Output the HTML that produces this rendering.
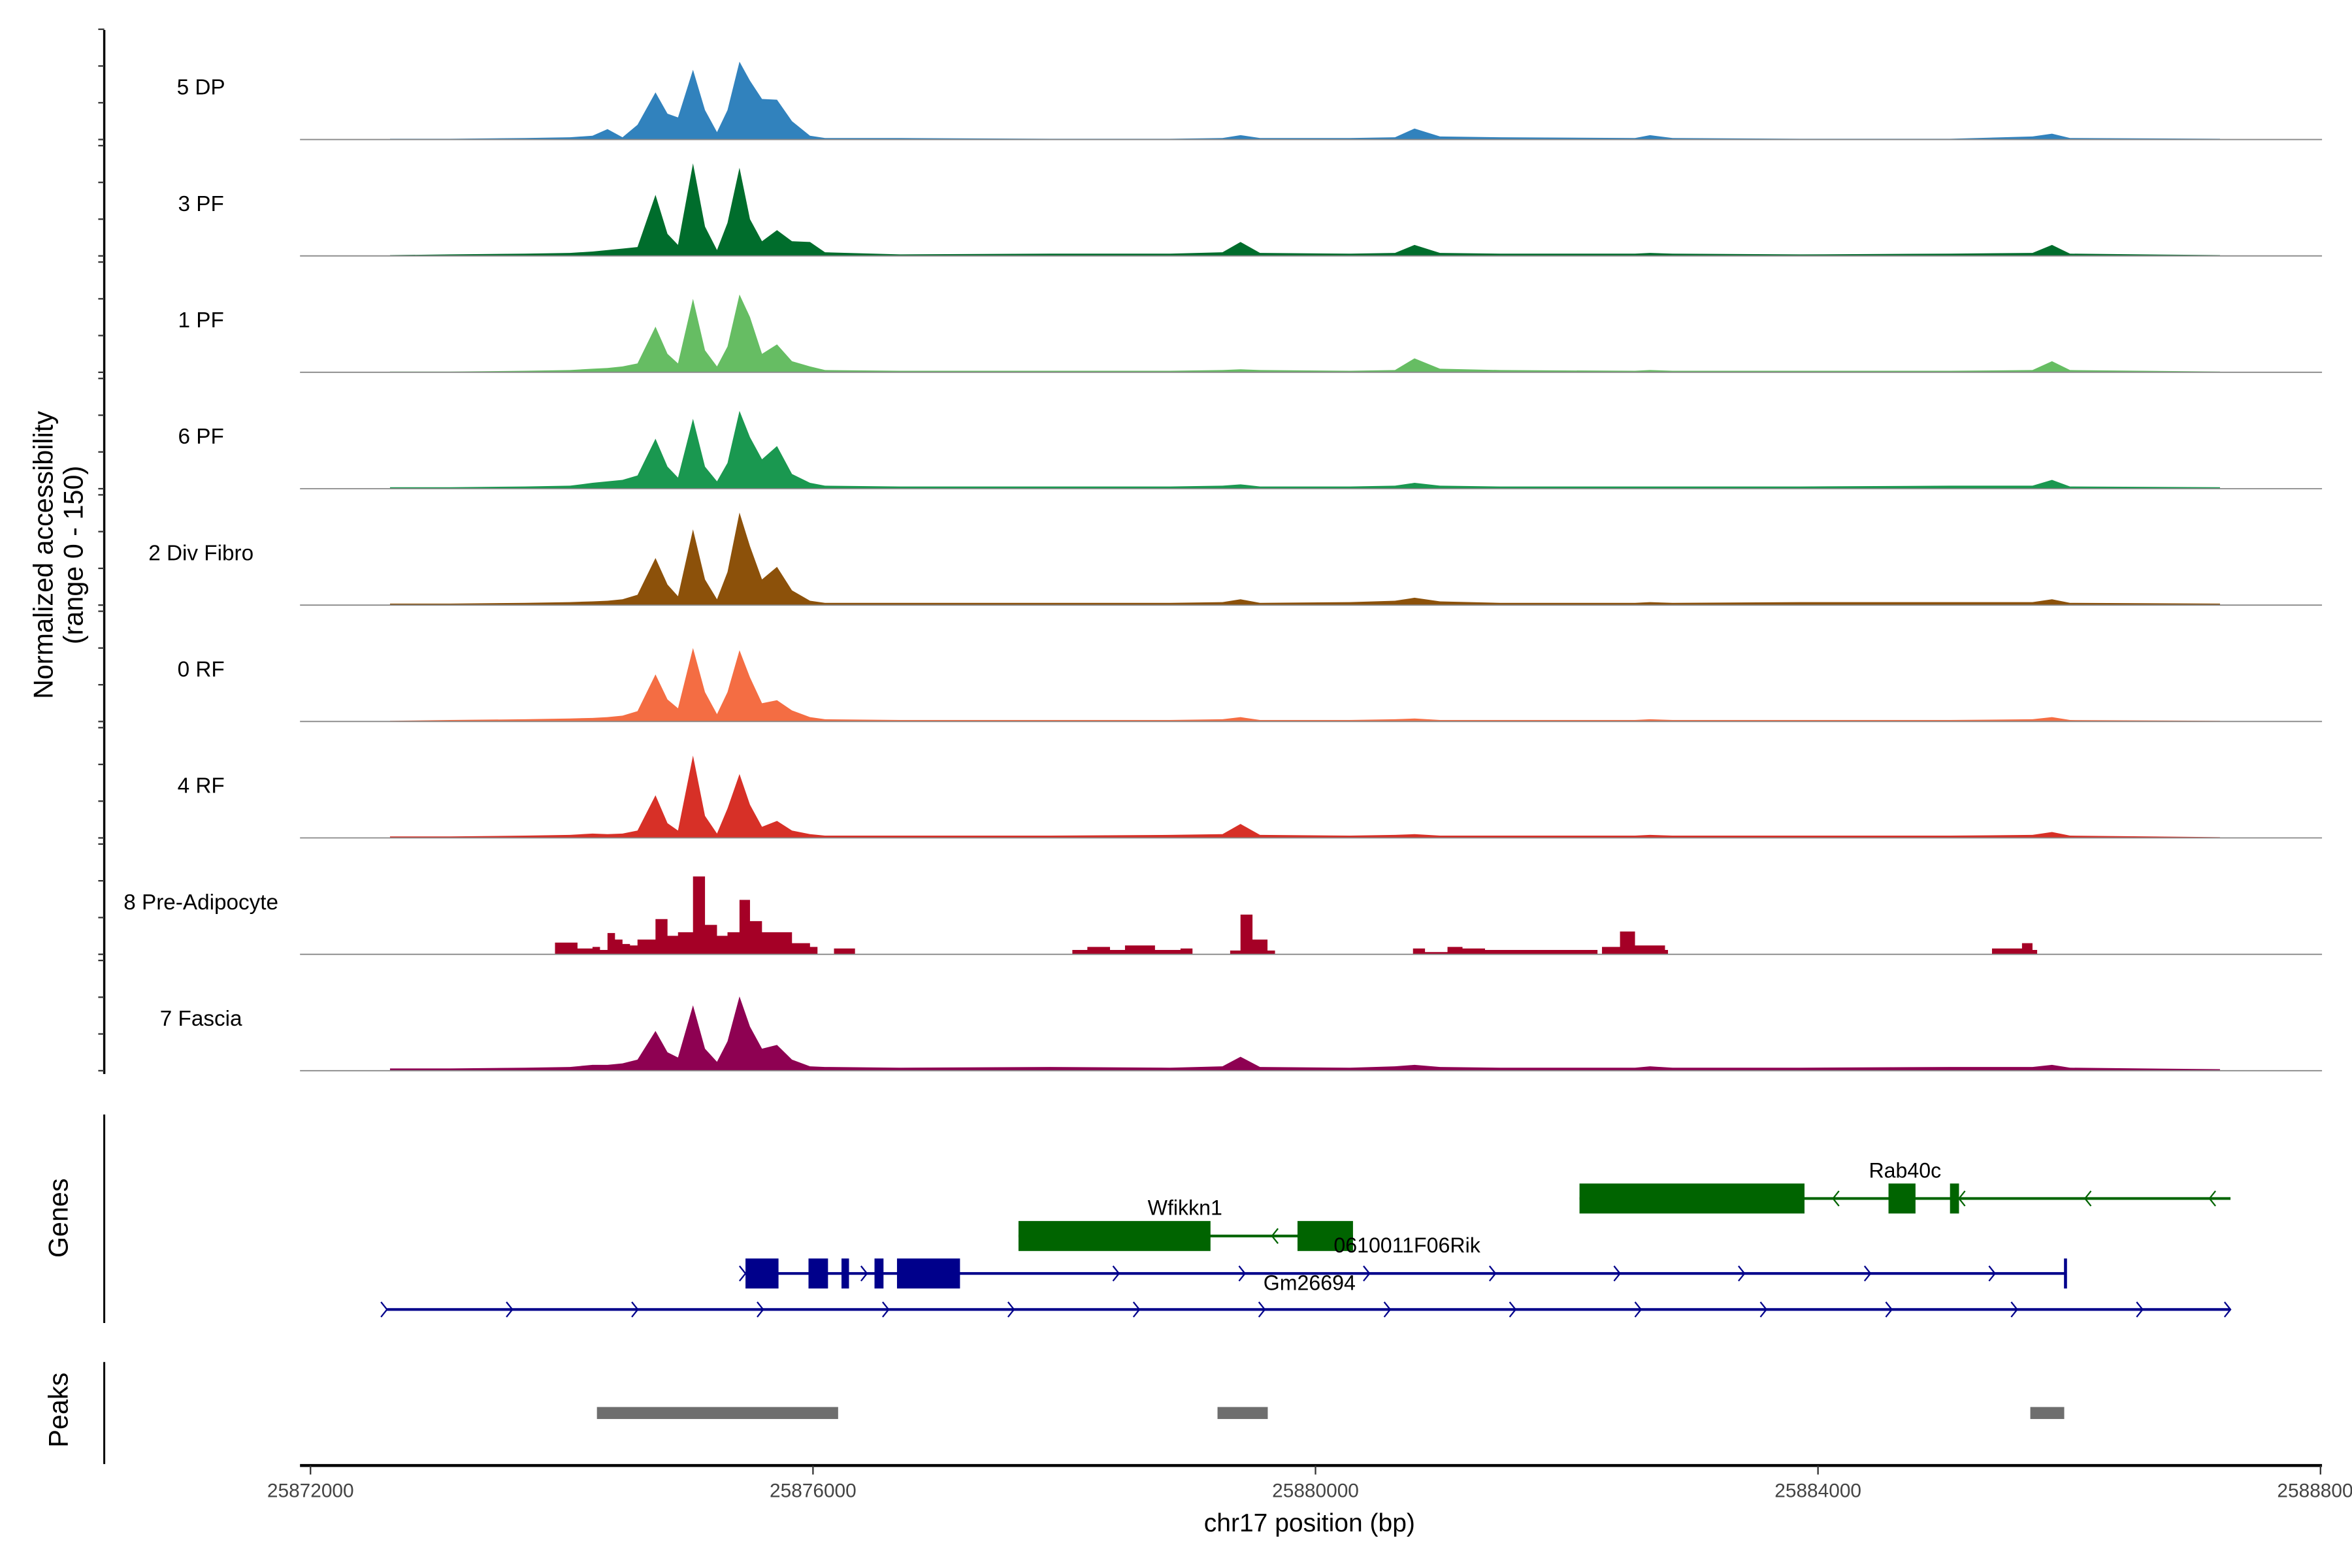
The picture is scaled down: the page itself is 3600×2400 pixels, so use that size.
<!DOCTYPE html>
<html><head><meta charset="utf-8"><style>
html,body{margin:0;padding:0;background:#fff;}
svg{display:block;font-family:"Liberation Sans",sans-serif;}
</style></head><body>
<svg id="chart" width="3600" height="2400" viewBox="0 0 1568 1045.33" xmlns="http://www.w3.org/2000/svg">
<rect x="0" y="0" width="1568" height="1045.33" fill="#fff"/>
<g id="tracks"></g>
<g id="yaxis"></g>
<text transform="translate(35,370) rotate(-90)" text-anchor="middle" font-size="18">Normalized accessibility</text>
<text transform="translate(55,370) rotate(-90)" text-anchor="middle" font-size="18">(range 0 - 150)</text>
<line x1="69.5" y1="743" x2="69.5" y2="882" stroke="#000" stroke-width="1.3"/>
<text transform="translate(45,812) rotate(-90)" text-anchor="middle" font-size="18">Genes</text>
<line x1="69.5" y1="908" x2="69.5" y2="976" stroke="#000" stroke-width="1.3"/>
<text transform="translate(45,940) rotate(-90)" text-anchor="middle" font-size="18">Peaks</text>
<g id="genes"></g>
<g id="peaks"></g>
<g id="xaxis"></g>
<text x="873" y="1021" text-anchor="middle" font-size="17">chr17 position (bp)</text>
</svg>
<script>
const positions = [25872633,25873110,25873707,25874066,25874245,25874364,25874484,25874603,25874746,25874842,25874925,25875045,25875140,25875236,25875319,25875415,25875499,25875594,25875713,25875833,25875976,25876095,25876692,25877886,25878842,25879260,25879403,25879558,25880275,25880633,25880788,25880991,25881469,25882543,25882663,25882842,25883857,25885051,25885708,25885863,25886006,25887200];
const preAdipoPositions = [25873922,25873946,25874066,25874125,25874245,25874305,25874364,25874424,25874484,25874543,25874603,25874746,25874842,25874925,25875045,25875140,25875236,25875319,25875415,25875499,25875594,25875713,25875833,25875976,25876036,25876167,25876310,25876334,25878029,25878065,25878184,25878364,25878483,25878722,25878925,25879021,25879260,25879320,25879403,25879499,25879618,25879678,25880752,25880776,25880872,25881051,25881170,25881349,25881409,25882245,25882280,25882424,25882543,25882782,25882806,25885349,25885385,25885624,25885708,25885744];
const trackNames = ["5 DP","3 PF","1 PF","6 PF","2 Div Fibro","0 RF","4 RF","8 Pre-Adipocyte","7 Fascia"];
const trackColors = ["#3182bd","#006d2c","#66bd63","#1a9850","#8c510a","#f46d43","#d73027","#a50026","#8e0152"];
const valsDP5 = [1,1,2,3,5,14,3,20,64,35,30,95,40,10,40,106,80,55,54,25,5,2,2,1,1,2,6,2,2,3,15,4,3,2,6,2,1,1,4,8,2,1];
const valsPF3 = [1,2,3,4,6,8,10,12,83,30,15,126,40,8,45,120,50,20,35,20,19,5,2,3,3,5,19,4,3,4,15,4,3,3,4,3,2,3,4,15,3,1];
const valsPF1 = [1,1,2,3,5,6,8,12,62,25,12,100,30,8,35,106,75,25,38,15,8,3,2,2,2,3,4,3,2,3,19,5,3,2,3,2,2,2,3,15,3,1];
const valsPF6 = [2,2,3,4,8,10,12,18,68,30,15,95,30,10,35,106,70,40,58,20,8,4,3,3,3,4,6,3,3,4,8,4,3,3,3,3,3,4,4,12,3,2];
const valsDiv2 = [2,2,3,4,5,6,8,14,64,28,12,103,35,8,45,126,80,35,52,20,6,3,3,3,3,4,8,3,4,6,10,5,3,3,4,3,4,4,4,8,3,2];
const valsRF0 = [1,2,3,4,5,6,8,14,64,30,18,100,40,10,40,97,60,25,29,15,6,3,2,2,2,3,6,2,2,3,4,2,2,2,3,2,2,2,3,6,2,1];
const valsRF4 = [2,2,3,4,6,5,6,10,58,20,10,112,30,6,40,87,45,15,23,10,5,3,3,3,4,5,19,4,3,4,5,3,3,3,4,3,3,3,4,8,3,1];
const valsPre8 = [0,16,16,8,10,6,29,20,14,12,20,48,25,30,106,40,25,30,74,45,30,30,15,10,0,8,8,0,0,6,10,6,12,6,8,0,0,5,54,20,5,0,0,8,3,10,8,6,6,0,10,31,12,6,0,0,8,15,6,0];
const valsFas7 = [3,3,4,5,8,8,10,15,54,25,18,89,30,12,40,101,60,30,35,15,6,5,4,5,4,6,19,5,4,6,8,5,4,4,6,4,4,5,5,8,4,2];
const xTicks = [25872000,25876000,25880000,25884000,25888000];
const xTickLabels = ["25872000","25876000","25880000","25884000","25888000"];
const peakStarts = [25874280,25879220,25885690];
const peakEnds = [25876200,25879620,25885960];

const NS="http://www.w3.org/2000/svg";
function el(t,a,p){const e=document.createElementNS(NS,t);for(const k in a)e.setAttribute(k,a[k]);p.appendChild(e);return e;}
const X0=25872000, BPPX=335/4000;
function xs(bp){return 207+(bp-X0)*BPPX;}
const base0=93, trackStep=77.6, trackH=73.5, vmax=150;
function ys(k,v){return base0+k*trackStep - v/vmax*trackH;}

const allVals=[valsDP5,valsPF3,valsPF1,valsPF6,valsDiv2,valsRF0,valsRF4,valsPre8,valsFas7];
const allPos=[positions,positions,positions,positions,positions,positions,positions,preAdipoPositions,positions];
const gT=document.getElementById('tracks');
allVals.forEach((vals,k)=>{
  const b=base0+k*trackStep;
  const pos=allPos[k];
  const step=(k===7);
  let d='M'+xs(pos[0])+','+b;
  let prevY=b;
  pos.forEach((p,i)=>{const y=ys(k,vals[i]);
    if(step){d+=' L'+xs(p).toFixed(1)+','+prevY.toFixed(1);}
    d+=' L'+xs(p).toFixed(1)+','+y.toFixed(1);prevY=y;});
  d+=' L'+xs(pos[pos.length-1])+','+b+' Z';
  const a=el('path',{d:d,fill:trackColors[k]},gT);
  
  
  const l=el('line',{x1:200,x2:1548,y1:b,y2:b,stroke:'#888','stroke-width':0.8},gT);
  
  
  const t=el('text',{x:134,y:b-30,'text-anchor':'middle','font-size':14.5},gT);
  t.textContent=trackNames[k];
  
  
});

const gY=document.getElementById('yaxis');
const ya=el('line',{x1:69.5,x2:69.5,y1:20,y2:716,stroke:'#000','stroke-width':1.5},gY);


for(let k=0;k<9;k++){for(let j=0;j<4;j++){const y=ys(k,j*50);
  const tk=el('line',{x1:65.5,x2:69.5,y1:y,y2:y,stroke:'#333','stroke-width':1},gY);
  
  }}

const gG=document.getElementById('genes');
const green='#006400', blue='#00008b';
function arrow(x,y,dir,c){const s=dir>0?-4:4;
  const p=el('path',{d:`M${x+s},${y-5} L${x},${y} L${x+s},${y+5}`,fill:'none',stroke:c,'stroke-width':1},gG);
  
  }
function gene(name,start,end,y,exons,c,dir,arrows,lx,ly){
  const ln=el('line',{x1:xs(start),x2:xs(end),y1:y,y2:y,stroke:c,'stroke-width':1.8},gG);
  
  
  exons.forEach(e=>{const r=el('rect',{x:xs(e[0]),y:y-10,width:xs(e[1])-xs(e[0]),height:20,fill:c},gG);
    
    });
  arrows.forEach(a=>arrow(xs(a),y,dir,c));
  const t=el('text',{x:lx,y:ly,'text-anchor':'middle','font-size':14},gG);
  t.textContent=name;
  
  
}
function bp(x){return X0+(x-207)/BPPX;}
gene('Rab40c',bp(1053),bp(1487),799,[[bp(1053),bp(1203)],[bp(1259),bp(1277)],[bp(1300),bp(1306)]],green,-1,[bp(1222),bp(1306),bp(1390),bp(1473)],1270,785);
gene('Wfikkn1',bp(679),bp(902),824,[[bp(679),bp(807)],[bp(865),bp(902)]],green,-1,[bp(848)],790,810);
gene('0610011F06Rik',bp(497),bp(1377),849,[[bp(497),bp(519)],[bp(539),bp(552)],[bp(561),bp(566)],[bp(583),bp(589)],[bp(598),bp(640)],[bp(1376),bp(1378)]],blue,1,[bp(497),bp(578),bp(746),bp(830),bp(913),bp(997),bp(1080),bp(1163),bp(1247),bp(1330)],938,835);
const gmArrows=[];for(let i=0;i<15;i++)gmArrows.push(bp(258+i*83.6));gmArrows.push(bp(1487));
gene('Gm26694',bp(258),bp(1487),873,[],blue,1,gmArrows,873,860);

const gP=document.getElementById('peaks');
peakStarts.forEach((s,i)=>{const r=el('rect',{x:xs(s),y:938,width:xs(peakEnds[i])-xs(s),height:8,fill:'#6e6e6e'},gP);
  
  });

const gX=document.getElementById('xaxis');
const xl=el('line',{x1:200,x2:1548,y1:977,y2:977,stroke:'#000','stroke-width':2},gX);


xTicks.forEach((v,i)=>{const x=xs(v);
  const t=el('line',{x1:x,x2:x,y1:977,y2:983,stroke:'#333','stroke-width':1},gX);
  
  
  const lb=el('text',{x:x,y:998,'text-anchor':'middle','font-size':13,fill:'#444'},gX);
  lb.textContent=xTickLabels[i];
  
  });
</script>
</body></html>
